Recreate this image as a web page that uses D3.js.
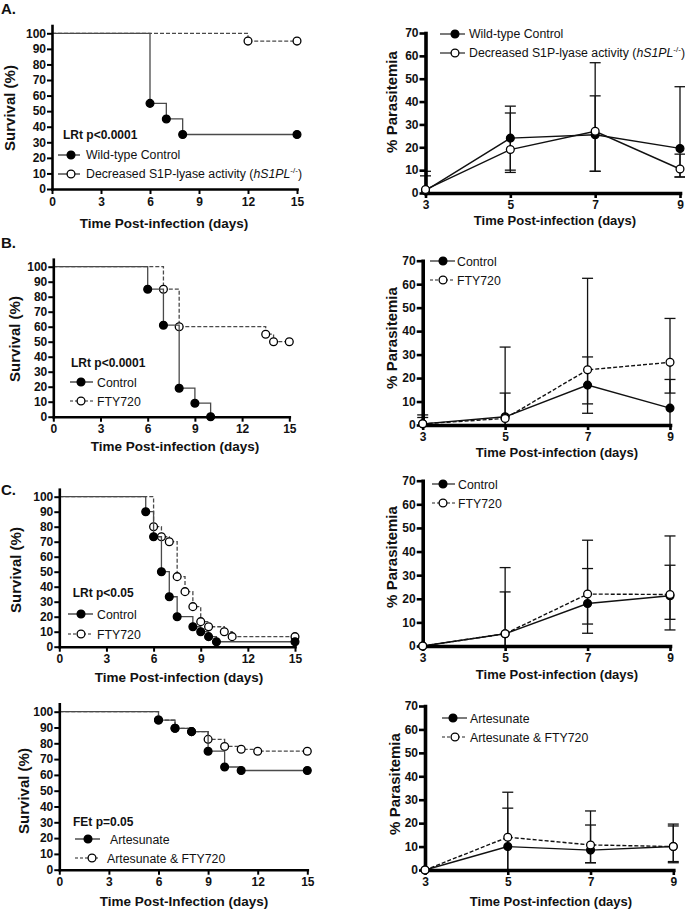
<!DOCTYPE html>
<html>
<head>
<meta charset="utf-8">
<script src="https://cdn.jsdelivr.net/npm/d3@7"></script>
<style>
  body { margin: 0; background: #fff; }
  svg { display: block; }
  text { font-family: 'Liberation Sans', Arial, sans-serif; }
</style>
</head>
<body>
<svg id="fig" width="685" height="911"></svg>
<script>
// ---- data: survival curves (day of step, % surviving after step) ----
var survTicksX = [0, 3, 6, 9, 12, 15];
var survTicksY = [0, 10, 20, 30, 40, 50, 60, 70, 80, 90, 100];

var aWT_t  = [0, 6, 7, 8, 15];
var aWT_v  = [100, 55, 45, 35, 35];
var aKO_t  = [0, 12, 15];
var aKO_v  = [100, 95, 95];

var bCtl_t = [0, 6, 7, 8, 9, 10];
var bCtl_v = [100, 85, 61, 19, 9, 0];
var bFty_t = [0, 7, 8, 13.5, 14, 15];
var bFty_v = [100, 85, 60, 55, 50, 50];

var cCtl_t = [0, 5.5, 6, 6.5, 7, 7.5, 8.5, 9, 9.5, 10, 15];
var cCtl_v = [100, 90, 73.3, 50, 33.3, 20, 13.3, 10, 6.7, 3.3, 3.3];
var cFty_t = [0, 6, 6.5, 7, 7.5, 8, 8.5, 9, 9.5, 10.5, 11, 15];
var cFty_v = [100, 80, 73.3, 70, 46.7, 36.7, 26.7, 16.7, 13.3, 10, 6.7, 6.7];

var dArt_t    = [0, 6, 7, 8, 9, 10, 11, 15];
var dArt_v    = [100, 94.7, 89.5, 87.4, 75, 65, 62.8, 62.8];
var dArtFty_t = [0, 6, 7, 8, 9, 10, 11, 12, 15];
var dArtFty_v = [100, 94.7, 89.5, 87.4, 82.5, 78, 76.2, 75, 75];

// ---- data: parasitemia (mean, upper and lower error bar ends) ----
var paraDays   = [3, 5, 7, 9];
var paraTicksY = [0, 10, 20, 30, 40, 50, 60, 70];

var aWT_mean = [1, 24, 25.5, 19.5],   aWT_hi = [9.5, 38, 57, 46.5],  aWT_lo = [0, 10, 9.5, 7];
var aKO_mean = [1.5, 19, 27, 10.5],   aKO_hi = [7.5, 35, 42.5, 17],  aKO_lo = [0, 9, 9.5, 7];

var bCtl_mean = [0.5, 3.5, 17, 7.2],  bCtl_hi = [4.3, 13.6, 29, 19.4], bCtl_lo = [0, 0, 5, 0];
var bFty_mean = [0.5, 2.8, 23.5, 26.7], bFty_hi = [3.2, 33.2, 62.5, 45.4], bFty_lo = [0, 0, 9, 13.6];

var cCtl_mean = [0, 5.2, 18, 21.3],   cCtl_hi = [0, 22.9, 32.8, 34.2], cCtl_lo = [0, 0, 5.4, 6.8];
var cFty_mean = [0, 5.2, 22, 21.8],   cFty_hi = [0, 33.2, 44.8, 46.6], cFty_lo = [0, 0, 9.3, 11.3];

var dArt_mean    = [0, 10, 8.5, 10],  dArt_hi    = [0, 26.4, 19.2, 18.8], dArt_lo    = [0, 0, 3.1, 3.6];
var dArtFty_mean = [0, 14, 10.7, 10], dArtFty_hi = [0, 33.2, 25.2, 19.6], dArtFty_lo = [0, 0, 3.1, 3.1];

var svg = d3.select("#fig");
svg.append("rect").attr("width", 685).attr("height", 911).attr("fill", "#fff");

function label(txt, x, y, size, bold, anchor, rot) {
    var t = svg.append("text")
        .attr("x", x).attr("y", y)
        .attr("font-size", size + "px")
        .attr("font-weight", bold ? "bold" : "normal")
        .attr("text-anchor", anchor || "start")
        .attr("fill", "#111")
        .text(txt);
    if (rot) {
        t.attr("transform", "rotate(-90," + x + "," + y + ")");
    }
    return t;
}

function marker(g, cx, cy, open) {
    g.append("circle")
        .attr("cx", cx).attr("cy", cy).attr("r", 3.9)
        .attr("fill", open ? "#fff" : "#000")
        .attr("stroke", "#000")
        .attr("stroke-width", 1.3);
}

function legendRow(x1, x2, mx, y, open, dashed, color) {
    var g = svg.append("g");
    g.append("line")
        .attr("x1", x1).attr("x2", x2).attr("y1", y).attr("y2", y)
        .attr("stroke", color || "#222").attr("stroke-width", 1.2)
        .attr("stroke-dasharray", dashed ? "3,2" : null);
    marker(g, mx, y, open);
    return g;
}

function styleAxis(g, w, tw) {
    g.select(".domain").attr("stroke", "#000").attr("stroke-width", w).attr("stroke-linecap", "square");
    g.selectAll(".tick line").attr("stroke", "#000").attr("stroke-width", tw);
    g.selectAll(".tick text")
        .attr("font-size", "12px").attr("font-weight", "bold")
        .attr("font-family", "'Liberation Sans', Arial, sans-serif").attr("fill", "#111");
}

// survival panel (Kaplan-Meier steps)
function survivalPanel(o) {
    var x = d3.scaleLinear().domain([0, 15]).range([o.x0, o.x15]);
    var y = d3.scaleLinear().domain([0, 105]).range([o.y0, o.y0 - (o.y0 - o.y100) * 1.05]);
    var g = svg.append("g");

    var line = d3.line()
        .x(function (d) { return x(d.t); })
        .y(function (d) { return y(d.v); })
        .curve(d3.curveStepAfter);

    o.series.forEach(function (s) {
        var pts = s.t.map(function (t, i) { return {t: t, v: s.v[i]}; });
        g.append("path")
            .attr("d", line(pts))
            .attr("fill", "none")
            .attr("stroke", "#4a4a4a")
            .attr("stroke-width", 1.3)
            .attr("stroke-dasharray", s.open ? "4,2" : null);
        pts.slice(1).forEach(function (p) { marker(g, x(p.t), y(p.v), s.open); });
    });

    var gy = svg.append("g").attr("transform", "translate(" + o.x0 + ",0)")
        .call(d3.axisLeft(y).tickValues(survTicksY).tickSize(5).tickSizeOuter(0).tickPadding(1));
    styleAxis(gy, 2.6, 2);
    var gx = svg.append("g").attr("transform", "translate(0," + o.y0 + ")")
        .call(d3.axisBottom(x).tickValues(survTicksX).tickSize(5).tickSizeOuter(0).tickPadding(3));
    styleAxis(gx, 2.6, 2);

    label("Survival (%)", o.ytx, o.yty, 15, true, "middle", true);
    label(o.xtitle, o.xtx, o.xty, 13.5, true, "middle");
}

// parasitemia panel (mean with error bars)
function paraPanel(o) {
    var x = d3.scaleLinear().domain([3, 9]).range([o.x3, o.x9]);
    var y = d3.scaleLinear().domain([0, 70]).range([o.y0, o.y70]);
    var g = svg.append("g");

    o.series.forEach(function (s) {
        paraDays.forEach(function (d, i) {
            var hi = s.hi[i], lo = s.lo[i];
            if (hi <= lo) { return; }
            g.append("line")
                .attr("x1", x(d)).attr("x2", x(d))
                .attr("y1", y(hi)).attr("y2", y(lo))
                .attr("stroke", "#111").attr("stroke-width", 1.3);
            [hi, lo].forEach(function (v) {
                if (v <= 0) { return; }
                g.append("line")
                    .attr("x1", x(d) - 5.5).attr("x2", x(d) + 5.5)
                    .attr("y1", y(v)).attr("y2", y(v))
                    .attr("stroke", "#111").attr("stroke-width", 1.3);
            });
        });
    });

    var line = d3.line()
        .x(function (d) { return x(d.d); })
        .y(function (d) { return y(d.m); });

    o.series.forEach(function (s) {
        var pts = paraDays.map(function (d, i) { return {d: d, m: s.mean[i]}; });
        g.append("path")
            .attr("d", line(pts))
            .attr("fill", "none")
            .attr("stroke", "#111")
            .attr("stroke-width", 1.4)
            .attr("stroke-dasharray", s.dashed ? "4,2" : null);
    });

    var gy = svg.append("g").attr("transform", "translate(" + o.x3 + ",0)")
        .call(d3.axisLeft(y).tickValues(paraTicksY).tickSize(6).tickSizeOuter(0).tickPadding(1));
    styleAxis(gy, 3.6, 2.6);
    var gx = svg.append("g").attr("transform", "translate(0," + o.y0 + ")")
        .call(d3.axisBottom(x).tickValues(paraDays).tickFormat(d3.format("d"))
            .tickSize(5).tickSizeOuter(0).tickPadding(2.5));
    styleAxis(gx, 3.6, 2.6);

    o.series.forEach(function (s) {
        paraDays.forEach(function (d, i) { marker(svg, x(d), y(s.mean[i]), s.open); });
    });

    label("% Parasitemia", o.ytx, o.yty, 15, true, "middle", true);
    label("Time Post-infection (days)", o.xtx, o.xty, 13, true, "middle");
}

// ---------- panel labels ----------
label("A.", 1, 14, 15, true);
label("B.", 1, 248, 15, true);
label("C.", 1, 495, 15, true);

// ---------- A ----------
survivalPanel({
    x0: 52, x15: 297, y0: 189, y100: 33.3,
    series: [{t: aKO_t, v: aKO_v, open: true}, {t: aWT_t, v: aWT_v, open: false}],
    ytx: 15, yty: 108, xtitle: "Time Post-infection (days)", xtx: 164, xty: 228
});
label("LRt p<0.0001", 63, 139, 12, true);
legendRow(58, 80, 71, 155, false, false);
label("Wild-type Control", 86, 159, 12.3, false);
legendRow(58, 80, 71, 174, true, false);
var ta = label("Decreased S1P-lyase activity (", 86, 178, 12.3, false);
ta.append("tspan").attr("font-style", "italic").text("hS1PL");
ta.append("tspan").attr("font-size", "8px").attr("dy", -5).text("-/-");
ta.append("tspan").attr("dy", 5).text(")");

paraPanel({
    x3: 425.5, x9: 680, y0: 193, y70: 33,
    series: [
        {mean: aWT_mean, hi: aWT_hi, lo: aWT_lo, open: false, dashed: false},
        {mean: aKO_mean, hi: aKO_hi, lo: aKO_lo, open: true, dashed: false}
    ],
    ytx: 397, yty: 102, xtx: 555, xty: 224.5
});
legendRow(440, 465, 455, 34, false, false);
label("Wild-type Control", 469, 38, 12.3, false);
legendRow(440, 465, 455, 53, true, false);
var tb = label("Decreased S1P-lyase activity (", 469, 57, 12.3, false);
tb.append("tspan").attr("font-style", "italic").text("hS1PL");
tb.append("tspan").attr("font-size", "8px").attr("dy", -5).text("-/-");
tb.append("tspan").attr("dy", 5).text(")");

// ---------- B ----------
survivalPanel({
    x0: 53.3, x15: 289.3, y0: 416.7, y100: 266.7,
    series: [{t: bFty_t, v: bFty_v, open: true}, {t: bCtl_t, v: bCtl_v, open: false}],
    ytx: 20, yty: 339, xtitle: "Time Post-infection (days)", xtx: 175, xty: 451
});
label("LRt p<0.0001", 71, 367, 12, true);
legendRow(70, 93, 81, 382, false, false);
label("Control", 97, 386.5, 12.3, false);
legendRow(70, 93, 81, 401, true, true);
label("FTY720", 97, 405.5, 12.3, false);

paraPanel({
    x3: 422.7, x9: 670, y0: 425, y70: 260.7,
    series: [
        {mean: bCtl_mean, hi: bCtl_hi, lo: bCtl_lo, open: false, dashed: false},
        {mean: bFty_mean, hi: bFty_hi, lo: bFty_lo, open: true, dashed: true}
    ],
    ytx: 397, yty: 338, xtx: 557, xty: 456.5
});
legendRow(430, 455, 443, 261, false, false);
label("Control", 457, 265.5, 12.3, false);
legendRow(430, 455, 443, 280, true, true);
label("FTY720", 457, 284.5, 12.3, false);

// ---------- C (top) ----------
survivalPanel({
    x0: 59.3, x15: 295, y0: 646.7, y100: 496.7,
    series: [{t: cFty_t, v: cFty_v, open: true}, {t: cCtl_t, v: cCtl_v, open: false}],
    ytx: 21, yty: 570, xtitle: "Time Post-infection (days)", xtx: 179, xty: 682
});
label("LRt p<0.05", 72.7, 597, 12, true);
legendRow(68, 93, 81, 614, false, false);
label("Control", 97, 618.5, 12.3, false);
legendRow(68, 93, 81, 634, true, true);
label("FTY720", 97, 638.5, 12.3, false);

paraPanel({
    x3: 422.7, x9: 670, y0: 646, y70: 480.7,
    series: [
        {mean: cCtl_mean, hi: cCtl_hi, lo: cCtl_lo, open: false, dashed: false},
        {mean: cFty_mean, hi: cFty_hi, lo: cFty_lo, open: true, dashed: true}
    ],
    ytx: 397, yty: 557, xtx: 557, xty: 678.5
});
legendRow(432, 455, 443, 484, false, false);
label("Control", 458, 488.5, 12.3, false);
legendRow(432, 455, 443, 503, true, true);
label("FTY720", 458, 507.5, 12.3, false);

// ---------- C (bottom) ----------
survivalPanel({
    x0: 59.3, x15: 307.3, y0: 869.7, y100: 711.7,
    series: [{t: dArtFty_t, v: dArtFty_v, open: true}, {t: dArt_t, v: dArt_v, open: false}],
    ytx: 29, yty: 791, xtitle: "Time Post-Infection (days)", xtx: 184, xty: 906
});
label("FEt p=0.05", 73, 826, 12, true);
legendRow(75, 100, 88, 839, false, false);
label("Artesunate", 110, 843.5, 12.3, false);
legendRow(75, 100, 92, 858, true, true);
label("Artesunate & FTY720", 107, 862.5, 12.3, false);

paraPanel({
    x3: 425, x9: 673.3, y0: 870, y70: 706,
    series: [
        {mean: dArt_mean, hi: dArt_hi, lo: dArt_lo, open: false, dashed: false},
        {mean: dArtFty_mean, hi: dArtFty_hi, lo: dArtFty_lo, open: true, dashed: true}
    ],
    ytx: 400, yty: 784, xtx: 551, xty: 906
});
legendRow(442, 467, 453, 718, false, false);
label("Artesunate", 470, 722.5, 12.3, false);
legendRow(442, 467, 455, 737, true, true);
label("Artesunate & FTY720", 470, 741.5, 12.3, false);
</script>
</body>
</html>
